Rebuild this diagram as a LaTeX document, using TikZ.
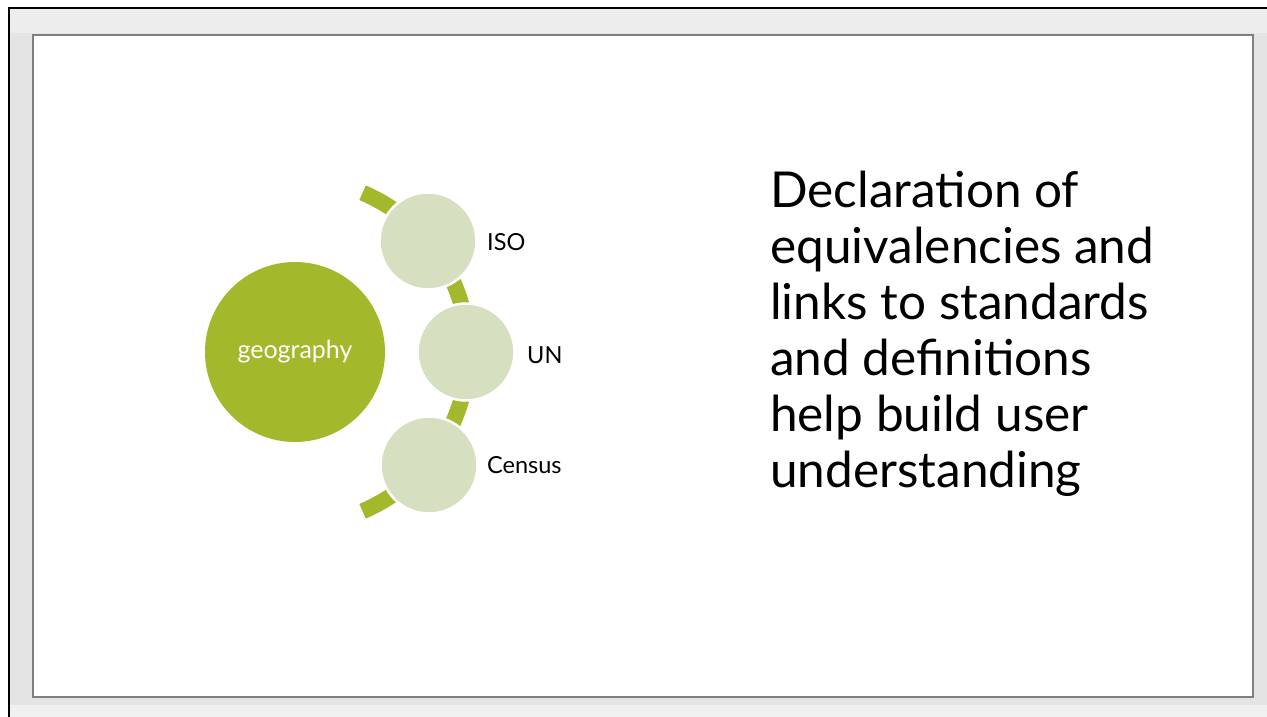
\documentclass[tikz,border=0pt]{standalone}
\usepackage{fontspec}
\setmainfont{Lato}
\definecolor{geo}{HTML}{A4B82C}
\definecolor{pale}{HTML}{D7DFC1}
\definecolor{framegray}{HTML}{E4E4E4}
\definecolor{slideedge}{HTML}{7F7F7F}
\tikzset{
  hub/.style={circle, fill=geo, minimum size=180pt, inner sep=0pt, text=white, font=\fontsize{25}{28}\selectfont},
  spoke/.style={circle, fill=pale, draw=white, line width=2.5pt, minimum size=97pt, inner sep=0pt},
  tag/.style={anchor=west, inner sep=0pt, font=\fontsize{23.5}{26}\selectfont},
  bodyline/.style={anchor=base west, inner sep=0pt, font=\fontsize{49.5}{56}\selectfont},
  ring/.style={draw=geo, line width=16pt}
}
\begin{document}
\begin{tikzpicture}[x=1pt,y=-1pt]
\useasboundingbox (0,0) rectangle (1267,717);
% window surround
\fill[white] (0,0) rectangle (1267,717);
\fill[framegray] (9,9) rectangle (1267,717);
\fill[black!7] (9,9) rectangle (1267,33);
\fill[black!6] (9,705) rectangle (1267,717);
\draw[black, line width=2.5pt] (9,717) -- (9,8) -- (1267,8);
% slide
\draw[slideedge, line width=2pt, fill=white] (33,35) rectangle (1253,697);

% hub and arc
\node[hub] (g) at (295,352) {geography};
\draw[ring] (g.center) ++(-67:173) arc[start angle=-67, end angle=67, radius=173];

% satellites
\node[spoke] (iso) at (428,241) {};
\node[spoke] (un) at (466,352) {};
\node[spoke] (cen) at (429,465) {};
\node[tag] (isol) at (487,242) {ISO};
\node[tag] (unl) at (527,355) {UN};
\node[tag] (cenl) at (487,465) {Census};

% statement
\node[bodyline] (t1) at (770,207) {Declaration of};
\node[bodyline] (t2) at (770,263) {equivalencies and};
\node[bodyline] (t3) at (770,319) {links to standards};
\node[bodyline] (t4) at (770,375) {and definitions};
\node[bodyline] (t5) at (770,431) {help build user};
\node[bodyline] (t6) at (770,487) {understanding};
\end{tikzpicture}
\end{document}
